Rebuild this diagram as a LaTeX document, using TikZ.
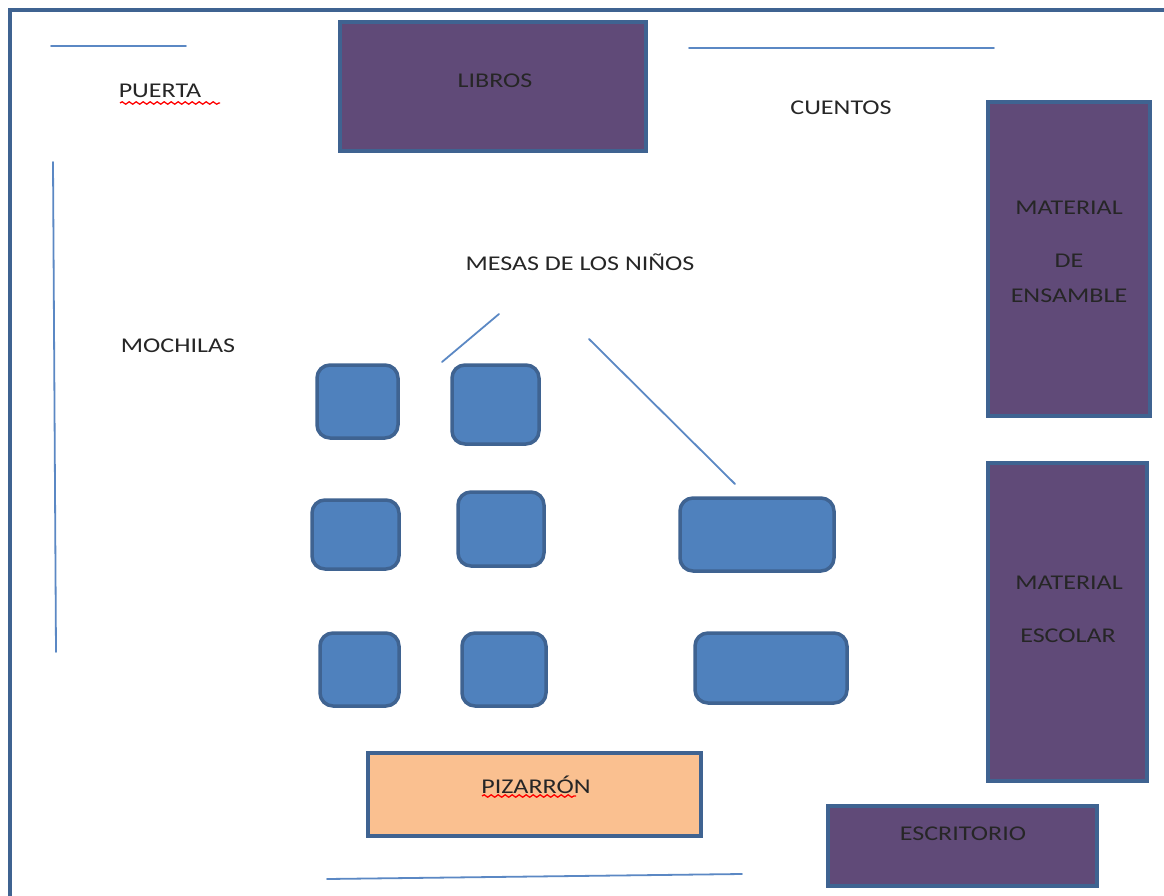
\documentclass[tikz,border=0pt]{standalone}
\usepackage{fontspec}
\setmainfont[FakeStretch=1.24]{Carlito}
\usetikzlibrary{decorations.pathmorphing}
\definecolor{edgeblue}{HTML}{3F6391}
\definecolor{linkblue}{HTML}{5B88C4}
\definecolor{plum}{HTML}{604A78}
\definecolor{tableblue}{HTML}{4F81BD}
\definecolor{peach}{HTML}{FAC090}
\definecolor{inktext}{HTML}{262626}
\tikzset{
 furniture/.style={draw=edgeblue,line width=3.5pt,fill=plum,inner sep=0pt},
 desk/.style={draw=edgeblue,line width=3.5pt,fill=tableblue,rounded corners=13pt,inner sep=0pt},
 board/.style={draw=edgeblue,line width=3.5pt,fill=peach,inner sep=0pt},
 label/.style={text=inktext,font=\fontsize{21}{21}\selectfont,inner sep=0pt,anchor=center},
 wall/.style={draw=linkblue,line width=1.8pt,line cap=round},
 spell/.style={draw=red,line width=1.3pt,decorate,decoration={snake,amplitude=1.2pt,segment length=7pt}}
}
\newcommand{\boxat}[6]{\path[#1] (#3,#4) rectangle (#5,#6) node[midway] (#2) {};}
\begin{document}
\begin{tikzpicture}[x=1pt,y=-1pt]
\useasboundingbox (0,0) rectangle (1164,896);
\fill[white] (0,0) rectangle (1164,896);
\draw[edgeblue,line width=4.5pt] (10,900) -- (10,10) -- (1168,10);
% walls
\coordinate (w1a) at (51,46); \coordinate (w1b) at (186,46);
\coordinate (w2a) at (689,48); \coordinate (w2b) at (994,48);
\coordinate (w3a) at (53,162); \coordinate (w3b) at (56,652);
\coordinate (w4a) at (327,879); \coordinate (w4b) at (742,874);
\draw[wall] (w1a) -- (w1b);
\draw[wall] (w2a) -- (w2b);
\draw[wall] (w3a) -- (w3b);
\draw[wall] (w4a) -- (w4b);
% furniture
\boxat{furniture}{libros}{340}{22}{646}{151}
\boxat{furniture}{ensamble}{988}{102}{1150}{416}
\boxat{furniture}{escolar}{988}{463}{1147}{781}
\boxat{furniture}{escritorio}{828}{806}{1097}{886}
\boxat{board}{pizarron}{368}{753}{701}{836}
% tables
\boxat{desk}{t1}{317}{365}{398}{438}
\boxat{desk}{t2}{452}{365}{539}{444}
\boxat{desk}{t3}{312}{500}{399}{569}
\boxat{desk}{t4}{458}{492}{544}{566}
\boxat{desk}{t5}{680}{498}{834}{571}
\boxat{desk}{t6}{320}{633}{399}{706}
\boxat{desk}{t7}{462}{633}{546}{706}
\boxat{desk}{t8}{695}{633}{847}{703}
% connectors
\coordinate (c1a) at (499,314); \coordinate (c1b) at (442,362);
\coordinate (c2a) at (589,339); \coordinate (c2b) at (735,484);
\draw[wall] (c1a) -- (c1b);
\draw[wall] (c2a) -- (c2b);
% labels
\node[label] (lpuerta) at (160,91) {PUERTA};
\node[label] (llibros) at (495,81) {LIBROS};
\node[label] (lcuentos) at (841,108) {CUENTOS};
\node[label] (lmesas) at (580,262) {MESAS DE LOS NIÑOS};
\node[label] (lmochilas) at (178,345.5) {MOCHILAS};
\node[label] (lm1) at (1069,208) {MATERIAL};
\node[label] (lm2) at (1069,261) {DE};
\node[label] (lm3) at (1069,296) {ENSAMBLE};
\node[label] (lm4) at (1069,583) {MATERIAL};
\node[label] (lm5) at (1068,636) {ESCOLAR};
\node[label] (lpiz) at (536,785) {PIZARRÓN};
\node[label] (lesc) at (963,834) {ESCRITORIO};
\draw[spell] (120,103) -- (220,103);
\draw[spell] (482,796) -- (576,796);
\end{tikzpicture}
\end{document}
